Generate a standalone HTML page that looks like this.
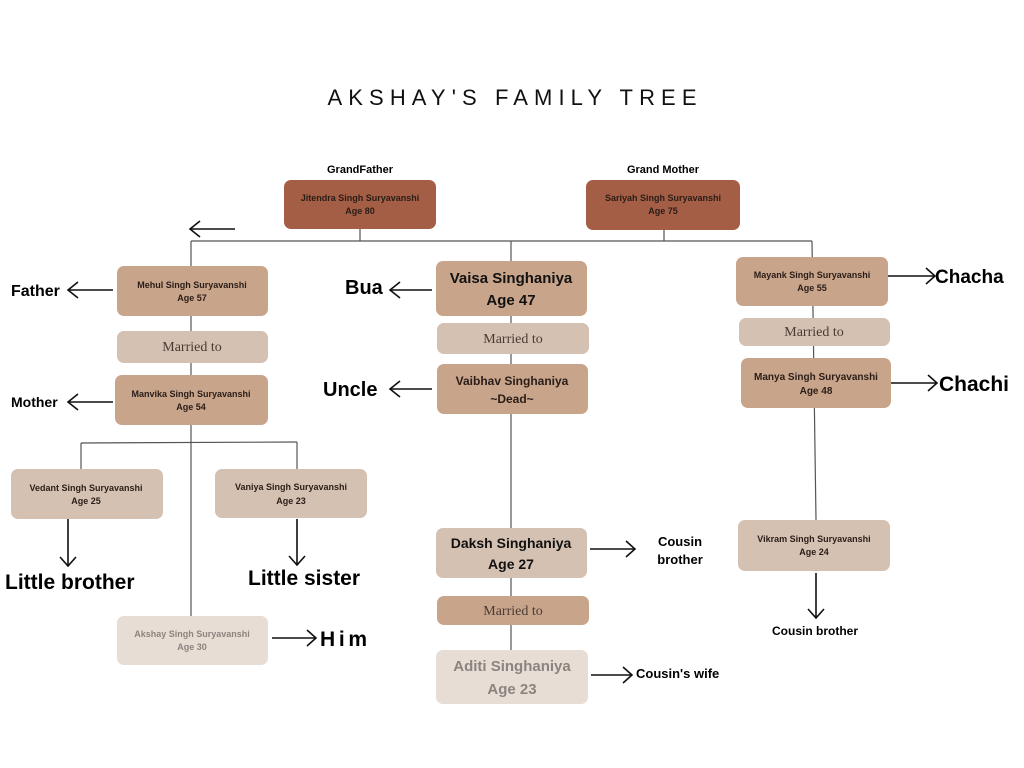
<!DOCTYPE html>
<html><head><meta charset="utf-8"><style>
html,body{margin:0;padding:0;background:#fff;}
svg{display:block;font-family:"Liberation Sans",sans-serif;}
.n{font-size:9px;font-weight:bold;fill:#2a1d17;text-anchor:middle;}
.b{font-size:15px;font-weight:bold;fill:#111;text-anchor:middle;}
.m{font-family:"Liberation Serif",serif;font-size:14px;fill:#4a3a33;text-anchor:middle;}
.l{font-weight:bold;fill:#000;}
</style></head><body>
<svg width="1024" height="768" viewBox="0 0 1024 768">
<text x="512" y="105" font-size="22" fill="#111" text-anchor="middle" textLength="369" lengthAdjust="spacing">AKSHAY'S FAMILY TREE</text>

<g stroke="#555" stroke-width="1.2" fill="none">
<line x1="360" y1="229" x2="360" y2="241"/><line x1="664" y1="230" x2="664" y2="241"/>
<line x1="191" y1="241" x2="812" y2="241"/>
<line x1="191" y1="241" x2="191" y2="616"/>
<line x1="511" y1="241" x2="511" y2="650"/>
<line x1="812" y1="241" x2="816" y2="520"/>
<line x1="81" y1="443" x2="297" y2="442"/>
<line x1="81" y1="443" x2="81" y2="469"/><line x1="297" y1="442" x2="297" y2="469"/>
</g>
<g stroke="#111" stroke-width="1.6" fill="none">
<path d="M235 229H190M200 221L190 229L200 237"/>
<path d="M113 290H68M78 282L68 290L78 298"/>
<path d="M113 402H68M78 394L68 402L78 410"/>
<path d="M432 290H390M400 282L390 290L400 298"/>
<path d="M432 389H390M400 381L390 389L400 397"/>
<path d="M888 276H935M926 268L935 276L926 284"/>
<path d="M891 383H937M928 375L937 383L928 391"/>
<path d="M68 519V566M60 557L68 566L76 557"/>
<path d="M297 519V565M289 556L297 565L305 556"/>
<path d="M272 638H316M307 630L316 638L307 646"/>
<path d="M590 549H635M626 541L635 549L626 557"/>
<path d="M591 675H632M623 667L632 675L623 683"/>
<path d="M816 573V618M808 609L816 618L824 609"/>
</g>

<!-- grandparents -->
<text x="360" y="173" font-size="11" font-weight="bold" text-anchor="middle">GrandFather</text>
<text x="663" y="173" font-size="11" font-weight="bold" text-anchor="middle">Grand Mother</text>
<rect x="284" y="180" width="152" height="49" rx="7" fill="#a45e45"/>
<text class="n" x="360" y="201">Jitendra Singh Suryavanshi</text><text class="n" x="360" y="214">Age 80</text>
<rect x="586" y="180" width="154" height="50" rx="7" fill="#a45e45"/>
<text class="n" x="663" y="201">Sariyah Singh Suryavanshi</text><text class="n" x="663" y="214">Age 75</text>

<!-- left -->
<rect x="117" y="266" width="151" height="50" rx="7" fill="#c8a48b"/>
<text class="n" x="192" y="288">Mehul Singh Suryavanshi</text><text class="n" x="192" y="301">Age 57</text>
<rect x="117" y="331" width="151" height="32" rx="7" fill="#d5c1b2"/>
<text class="m" x="192" y="351">Married to</text>
<rect x="115" y="375" width="153" height="50" rx="7" fill="#c8a48b"/>
<text class="n" x="191" y="397">Manvika Singh Suryavanshi</text><text class="n" x="191" y="410">Age 54</text>
<rect x="11" y="469" width="152" height="50" rx="7" fill="#d5c1b2"/>
<text class="n" x="86" y="491">Vedant Singh Suryavanshi</text><text class="n" x="86" y="504">Age 25</text>
<rect x="215" y="469" width="152" height="49" rx="7" fill="#d5c1b2"/>
<text class="n" x="291" y="490">Vaniya Singh Suryavanshi</text><text class="n" x="291" y="504">Age 23</text>
<rect x="117" y="616" width="151" height="49" rx="7" fill="#e8ddd4"/>
<text class="n" x="192" y="637" fill="#8a8480" style="fill:#8a8480">Akshay Singh Suryavanshi</text><text class="n" x="192" y="650" style="fill:#8a8480">Age 30</text>

<text class="l" x="11" y="296" font-size="16">Father</text>
<text class="l" x="11" y="407" font-size="14">Mother</text>
<text class="l" x="5" y="589" font-size="21">Little brother</text>
<text class="l" x="248" y="585" font-size="21">Little sister</text>
<text class="l" x="320" y="646" font-size="21" textLength="47" lengthAdjust="spacing">Him</text>

<!-- middle -->
<rect x="436" y="261" width="151" height="55" rx="7" fill="#c8a48b"/>
<text class="b" x="511" y="283">Vaisa Singhaniya</text><text class="b" x="511" y="305">Age 47</text>
<rect x="437" y="323" width="152" height="31" rx="7" fill="#d5c1b2"/>
<text class="m" x="513" y="343">Married to</text>
<rect x="437" y="364" width="151" height="50" rx="7" fill="#c8a48b"/>
<text class="n" x="512" y="385" font-size="12" style="font-size:12px">Vaibhav Singhaniya</text><text class="n" x="512" y="403" style="font-size:12px">~Dead~</text>
<rect x="436" y="528" width="151" height="50" rx="7" fill="#d5c1b2"/>
<text class="b" x="511" y="548" style="font-size:14px">Daksh Singhaniya</text><text class="b" x="511" y="569" style="font-size:14px">Age 27</text>
<rect x="437" y="596" width="152" height="29" rx="7" fill="#c8a48b"/>
<text class="m" x="513" y="615">Married to</text>
<rect x="436" y="650" width="152" height="54" rx="7" fill="#e8ddd4"/>
<text class="b" x="512" y="671" style="fill:#8a8480">Aditi Singhaniya</text><text class="b" x="512" y="694" style="fill:#8a8480">Age 23</text>

<text class="l" x="345" y="294" font-size="20">Bua</text>
<text class="l" x="323" y="396" font-size="20">Uncle</text>
<text class="l" x="680" y="546" font-size="13" text-anchor="middle">Cousin</text>
<text class="l" x="680" y="564" font-size="13" text-anchor="middle">brother</text>
<text class="l" x="636" y="678" font-size="13">Cousin's wife</text>

<!-- right -->
<rect x="736" y="257" width="152" height="49" rx="7" fill="#c8a48b"/>
<text class="n" x="812" y="278">Mayank Singh Suryavanshi</text><text class="n" x="812" y="291">Age 55</text>
<rect x="739" y="318" width="151" height="28" rx="7" fill="#d5c1b2"/>
<text class="m" x="814" y="336">Married to</text>
<rect x="741" y="358" width="150" height="50" rx="7" fill="#c8a48b"/>
<text class="n" x="816" y="380" style="font-size:10px">Manya Singh Suryavanshi</text><text class="n" x="816" y="394" style="font-size:10px">Age 48</text>
<rect x="738" y="520" width="152" height="51" rx="7" fill="#d5c1b2"/>
<text class="n" x="814" y="542">Vikram Singh Suryavanshi</text><text class="n" x="814" y="555">Age 24</text>

<text class="l" x="935" y="283" font-size="19">Chacha</text>
<text class="l" x="939" y="391" font-size="21">Chachi</text>
<text class="l" x="815" y="635" font-size="12" text-anchor="middle">Cousin brother</text>
</svg>
</body></html>
